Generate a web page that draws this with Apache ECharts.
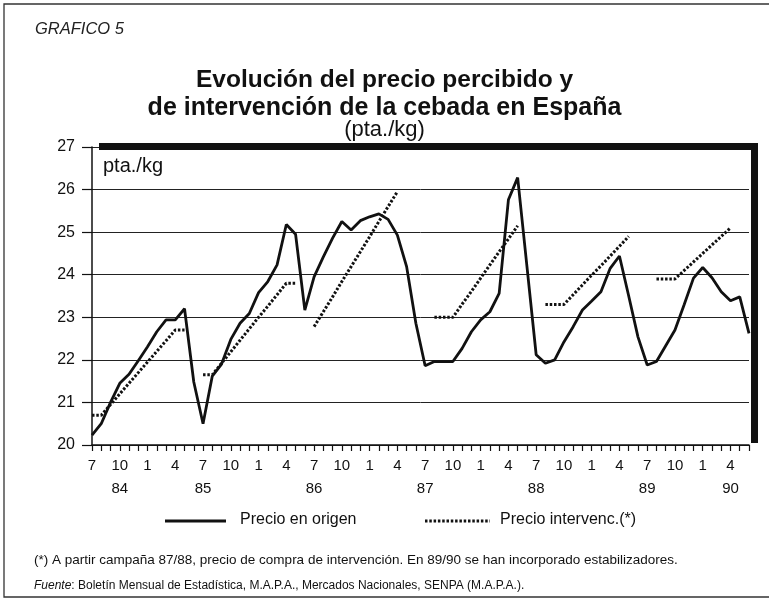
<!DOCTYPE html>
<html>
<head>
<meta charset="utf-8">
<script src="https://cdn.jsdelivr.net/npm/echarts@6/dist/echarts.min.js"></script>
<style>
  html, body { margin: 0; padding: 0; background: #fff; }
  #chart { width: 769px; height: 601px; }
</style>
</head>
<body>
<div id="chart"></div>
<script>
// meses (mes/año), de julio 1984 a junio 1990
const categories = [
  '7/84', '8/84', '9/84', '10/84', '11/84', '12/84', '1/85', '2/85', '3/85', '4/85', '5/85', '6/85',
  '7/85', '8/85', '9/85', '10/85', '11/85', '12/85', '1/86', '2/86', '3/86', '4/86', '5/86', '6/86',
  '7/86', '8/86', '9/86', '10/86', '11/86', '12/86', '1/87', '2/87', '3/87', '4/87', '5/87', '6/87',
  '7/87', '8/87', '9/87', '10/87', '11/87', '12/87', '1/88', '2/88', '3/88', '4/88', '5/88', '6/88',
  '7/88', '8/88', '9/88', '10/88', '11/88', '12/88', '1/89', '2/89', '3/89', '4/89', '5/89', '6/89',
  '7/89', '8/89', '9/89', '10/89', '11/89', '12/89', '1/90', '2/90', '3/90', '4/90', '5/90', '6/90'
];

// etiquetas de mes que se muestran y año bajo ciertas posiciones
const monthTicks = ['7', '10', '1', '4'];
const yearLabels = { '10/84': '84', '7/85': '85', '7/86': '86', '7/87': '87', '7/88': '88', '7/89': '89', '4/90': '90' };

// Precio en origen (pta./kg)
const precioOrigen = [
  20.23, 20.5, 21.0, 21.45, 21.66, 21.98, 22.31, 22.66, 22.94, 22.94, 23.2, 21.48,
  20.5, 21.62, 21.9, 22.48, 22.86, 23.09, 23.58, 23.84, 24.23, 25.18, 24.95, 23.17,
  23.95, 24.42, 24.86, 25.25, 25.05, 25.27, 25.36, 25.43, 25.3, 24.93, 24.19, 22.86,
  21.86, 21.96, 21.96, 21.96, 22.27, 22.66, 22.94, 23.13, 23.56, 25.76, 26.28, 24.2,
  22.12, 21.92, 22.0, 22.42, 22.78, 23.17, 23.38, 23.6, 24.15, 24.44, 23.5, 22.54,
  21.88, 21.96, 22.33, 22.7, 23.3, 23.92, 24.17, 23.93, 23.6, 23.39, 23.48, 22.62
];

// Precio de intervención (*) (null = sin dato)
const precioIntervencion = [
  20.7, 20.7, 20.95, 21.2, 21.45, 21.7, 21.95, 22.2, 22.45, 22.7, 22.7, null,
  21.65, 21.65, 21.92, 22.19, 22.46, 22.73, 23.0, 23.26, 23.53, 23.8, 23.8, null,
  22.78, 23.13, 23.48, 23.84, 24.19, 24.54, 24.89, 25.25, 25.6, 25.95, null, null,
  null, 23.0, 23.0, 23.0, 23.31, 23.61, 23.92, 24.23, 24.54, 24.84, 25.15, null,
  null, 23.3, 23.3, 23.3, 23.53, 23.76, 23.99, 24.21, 24.44, 24.67, 24.9, null,
  null, 23.9, 23.9, 23.9, 24.1, 24.3, 24.5, 24.7, 24.9, 25.1, null, null
];

const font = '"Liberation Sans", Arial, sans-serif';
const ink = '#111';
const dotted = [2.5, 1.8];

let myChart = echarts.init(document.getElementById('chart'));

let option = {
  backgroundColor: '#fff',
  animation: false,
  grid: { left: 92, right: 20, top: 147, bottom: 156, containLabel: false },
  xAxis: {
    type: 'category',
    data: categories,
    boundaryGap: false,
    axisLine: { lineStyle: { color: ink, width: 1.5 } },
    axisTick: { show: true, interval: 0, length: 6, lineStyle: { color: ink, width: 1.2 } },
    axisLabel: {
      interval: 0,
      margin: 9,
      color: ink,
      fontFamily: font,
      fontSize: 15,
      lineHeight: 23,
      formatter: function (v) {
        const m = v.split('/')[0];
        let s = monthTicks.indexOf(m) >= 0 ? m : '';
        if (yearLabels[v]) s += '\n' + yearLabels[v];
        return s;
      }
    },
    splitLine: { show: false }
  },
  yAxis: {
    type: 'value',
    min: 20,
    max: 27,
    interval: 1,
    axisLine: { show: true, lineStyle: { color: ink, width: 1.5 } },
    axisTick: { show: true, length: 10, lineStyle: { color: ink, width: 1.2 } },
    axisLabel: { color: ink, fontFamily: font, fontSize: 16, margin: 17 },
    splitLine: { show: true, lineStyle: { color: '#222', width: 1 } }
  },
  series: [
    {
      name: 'Precio en origen',
      type: 'line',
      data: precioOrigen,
      showSymbol: false,
      symbol: 'none',
      lineStyle: { color: ink, width: 2.8 },
      z: 3
    },
    {
      name: 'Precio intervenc.(*)',
      type: 'line',
      data: precioIntervencion,
      connectNulls: false,
      showSymbol: false,
      symbol: 'none',
      lineStyle: { color: ink, width: 3, type: dotted },
      z: 2
    }
  ],
  graphic: [
    // marco exterior
    { type: 'polyline', shape: { points: [[772, 4], [4, 4], [4, 597], [772, 597]] }, style: { stroke: '#333', lineWidth: 1.3, fill: null } },
    // barra gruesa superior y lateral derecha
    { type: 'rect', shape: { x: 99, y: 143, width: 659, height: 7 }, style: { fill: ink }, z: 10 },
    { type: 'rect', shape: { x: 751, y: 143, width: 7, height: 300 }, style: { fill: ink }, z: 10 },
    { type: 'text', left: 35, top: 21, style: { text: 'GRAFICO 5', font: 'italic 16.5px ' + font, fill: '#222' } },
    { type: 'text', left: 'center', top: 68, style: { text: 'Evolución del precio percibido y', font: 'bold 24.5px ' + font, fill: ink } },
    { type: 'text', left: 'center', top: 96, style: { text: 'de intervención de la cebada en España', font: 'bold 25px ' + font, fill: ink } },
    { type: 'text', left: 'center', top: 119, style: { text: '(pta./kg)', font: '22px ' + font, fill: ink } },
    { type: 'text', left: 103, top: 156, style: { text: 'pta./kg', font: '20px ' + font, fill: ink }, z: 10 },
    // leyenda
    { type: 'line', shape: { x1: 165, y1: 521, x2: 226, y2: 521 }, style: { stroke: ink, lineWidth: 2.8 } },
    { type: 'text', left: 240, top: 512, style: { text: 'Precio en origen', font: '16px ' + font, fill: ink } },
    { type: 'line', shape: { x1: 425, y1: 521, x2: 490, y2: 521 }, style: { stroke: ink, lineWidth: 3, lineDash: dotted } },
    { type: 'text', left: 500, top: 512, style: { text: 'Precio intervenc.(*)', font: '16px ' + font, fill: ink } },
    // notas
    { type: 'text', left: 34, top: 553, style: { text: '(*) A partir campaña 87/88, precio de compra de intervención. En 89/90 se han incorporado estabilizadores.', font: '13.5px ' + font, fill: ink } },
    {
      type: 'text', left: 34, top: 580,
      style: {
        text: '{i|Fuente}: Boletín Mensual de Estadística, M.A.P.A., Mercados Nacionales, SENPA (M.A.P.A.).',
        font: '12px ' + font, fill: ink,
        rich: { i: { fontStyle: 'italic', fontSize: 12, fontFamily: font, fill: ink } }
      }
    }
  ]
};

myChart.setOption(option);
</script>
</body>
</html>
